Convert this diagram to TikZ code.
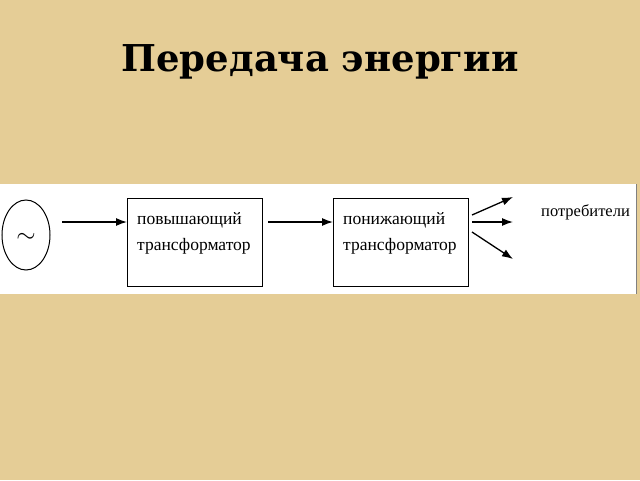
\documentclass[tikz,border=0pt]{standalone}
\usepackage{fontspec}
\usetikzlibrary{shapes.geometric,arrows.meta}
\setmainfont{Liberation Serif}
\newfontfamily\titlefont{DejaVu Serif}
\definecolor{paper}{RGB}{229,205,150}
\begin{document}
\begin{tikzpicture}[x=1pt,y=-1pt,
  blk/.style={draw,line width=1pt,minimum width=135pt,minimum height=88pt,anchor=north west,inner sep=0pt},
  lbl/.style={font=\fontsize{17.5}{26}\selectfont,align=left,anchor=north west,inner sep=0pt},
  arr/.style={-{Latex[length=11pt,width=8pt]},line width=1.3pt}]
\fill[paper] (0,0) rectangle (640,480);
\useasboundingbox (0,0) rectangle (640,480);
\fill[white] (0,184) rectangle (636,294);
\draw[line width=0.6pt,gray] (636,184) -- (636,294);
\node[font=\titlefont\bfseries\fontsize{37}{40}\selectfont] (title) at (320,62) {Передача энергии};
\node[draw,ellipse,line width=1pt,minimum width=48pt,minimum height=70pt,inner sep=0pt] (g) at (26,235) {};
\node[font=\fontsize{26}{26}\selectfont] (tilde) at (26,238) {$\sim$};
\node[blk] (b1) at (127,198) {};
\node[blk] (b2) at (333,198) {};
\node[lbl] (t1) at (137,212) {повышающий\\трансформатор};
\node[lbl] (t2) at (343,212) {понижающий\\трансформатор};
\coordinate (g1) at (62,222);
\coordinate (b1in) at (127,222);
\coordinate (b1o) at (268,222);
\coordinate (b2in) at (333,222);
\coordinate (o1) at (472,215);
\coordinate (o2) at (472,222);
\coordinate (o3) at (472,232);
\coordinate (e1) at (513,197);
\coordinate (e2) at (513,222);
\coordinate (e3) at (513,259);
\draw[arr] (g1) -- (b1in);
\draw[arr] (b1o) -- (b2in);
\draw[arr] (o1) -- (e1);
\draw[arr] (o2) -- (e2);
\draw[arr] (o3) -- (e3);
\node[font=\fontsize{16.5}{20}\selectfont,anchor=west,inner sep=0pt] (c) at (541,212) {потребители};
\end{tikzpicture}
\end{document}
